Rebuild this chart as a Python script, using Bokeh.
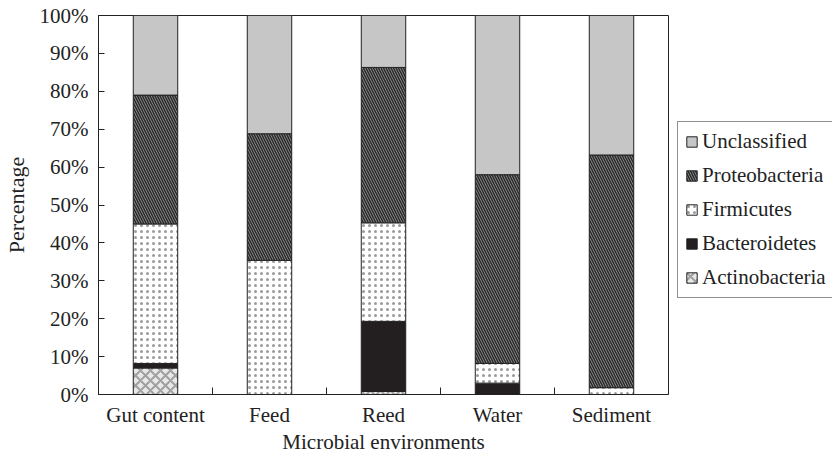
from bokeh.plotting import figure
from bokeh.models import ColumnDataSource, FixedTicker, Legend, LegendItem, PrintfTickFormatter, Range1d
from bokeh.transform import stack
from bokeh.embed import file_html
from bokeh.resources import INLINE

categories = ["Gut content", "Feed", "Reed", "Water", "Sediment"]
actinobacteria = [7.0, 0.0, 0.8, 0.0, 0.0]
bacteroidetes = [1.2, 0.0, 18.5, 3.0, 0.0]
firmicutes = [36.8, 35.4, 26.0, 5.2, 1.8]
proteobacteria = [34.0, 33.4, 41.0, 49.8, 61.4]
unclassified = [21.0, 31.2, 13.7, 42.0, 36.8]
series_names = ["Actinobacteria", "Bacteroidetes", "Firmicutes", "Proteobacteria", "Unclassified"]
y_ticks = [0, 10, 20, 30, 40, 50, 60, 70, 80, 90, 100]

x_pos = [i + 0.5 for i in range(len(categories))]
src = ColumnDataSource(dict(
    x=x_pos,
    Actinobacteria=actinobacteria,
    Bacteroidetes=bacteroidetes,
    Firmicutes=firmicutes,
    Proteobacteria=proteobacteria,
    Unclassified=unclassified,
))

FONT = "Liberation Serif"

p = figure(frame_width=570, frame_height=379, output_backend="svg", toolbar_location=None,
           x_range=Range1d(0, len(categories)), y_range=Range1d(0, 100),
           min_border_left=90, min_border_right=0, min_border_top=15, min_border_bottom=40)
p.background_fill_color = "white"
p.border_fill_color = "white"
p.outline_line_color = "#222222"
p.outline_line_width = 1
p.xgrid.visible = False
p.ygrid.visible = False

styles = {
    "Actinobacteria": dict(fill_color="#e8e8e8", hatch_pattern="x", hatch_color="#a0a0a0",
                           hatch_scale=10, hatch_weight=2),
    "Bacteroidetes": dict(fill_color="#231f20"),
    "Firmicutes": dict(fill_color="white", hatch_pattern=".", hatch_color="#9a9a9a",
                       hatch_scale=6, hatch_weight=1.5),
    "Proteobacteria": dict(fill_color="#9a9a9a", hatch_pattern="\\", hatch_color="#2b2b2b",
                           hatch_scale=5, hatch_weight=1.6),
    "Unclassified": dict(fill_color="#c6c6c6"),
}

renderers = {}
for i, name in enumerate(series_names):
    r = p.vbar(x="x", bottom=stack(*series_names[:i]), top=stack(*series_names[:i + 1]),
               width=0.39, source=src, line_color="#222222", line_width=1, **styles[name])
    renderers[name] = r

# axes
p.yaxis.ticker = FixedTicker(ticks=y_ticks)
p.yaxis.formatter = PrintfTickFormatter(format="%d%%")
p.yaxis.major_tick_in = 6
p.yaxis.major_tick_out = 0
p.yaxis.axis_label = "Percentage"

p.xaxis.ticker = FixedTicker(ticks=x_pos, minor_ticks=[1, 2, 3, 4])
p.xaxis.major_label_overrides = {x: c for x, c in zip(x_pos, categories)}
p.xaxis.minor_tick_in = 7
p.xaxis.minor_tick_out = 0
p.xaxis.axis_label = "Microbial environments"

for ax in (p.xaxis, p.yaxis):
    ax.axis_line_color = "#222222"
    ax.major_label_text_font = FONT
    ax.major_label_text_font_size = "21px"
    ax.major_label_text_color = "#222222"
    ax.axis_label_text_font = FONT
    ax.axis_label_text_font_style = "normal"
    ax.axis_label_text_color = "#222222"

p.yaxis.major_tick_line_color = "#222222"
p.yaxis.minor_tick_line_color = None
p.xaxis.major_tick_line_color = None
p.xaxis.minor_tick_line_color = "#222222"
p.yaxis.axis_label_text_font_size = "22px"
p.xaxis.axis_label_text_font_size = "21px"

p.yaxis.major_label_standoff = 10
p.yaxis.axis_label_standoff = 8
p.xaxis.major_label_standoff = 2
p.xaxis.axis_label_standoff = 0

items = [LegendItem(label=n, renderers=[renderers[n]]) for n in reversed(series_names)]
legend = Legend(items=items, location=(9, 96), orientation="vertical")
legend.border_line_color = "#222222"
legend.border_line_width = 1
legend.background_fill_color = "white"
legend.background_fill_alpha = 1
legend.label_text_font = FONT
legend.label_text_font_size = "21px"
legend.label_text_color = "#222222"
legend.glyph_width = 13
legend.glyph_height = 13
legend.label_height = 24
legend.label_standoff = 4
legend.spacing = 9
legend.padding = 7
legend.margin = 0
p.add_layout(legend, "right")

open("out.html", "w").write(file_html(p, INLINE))
